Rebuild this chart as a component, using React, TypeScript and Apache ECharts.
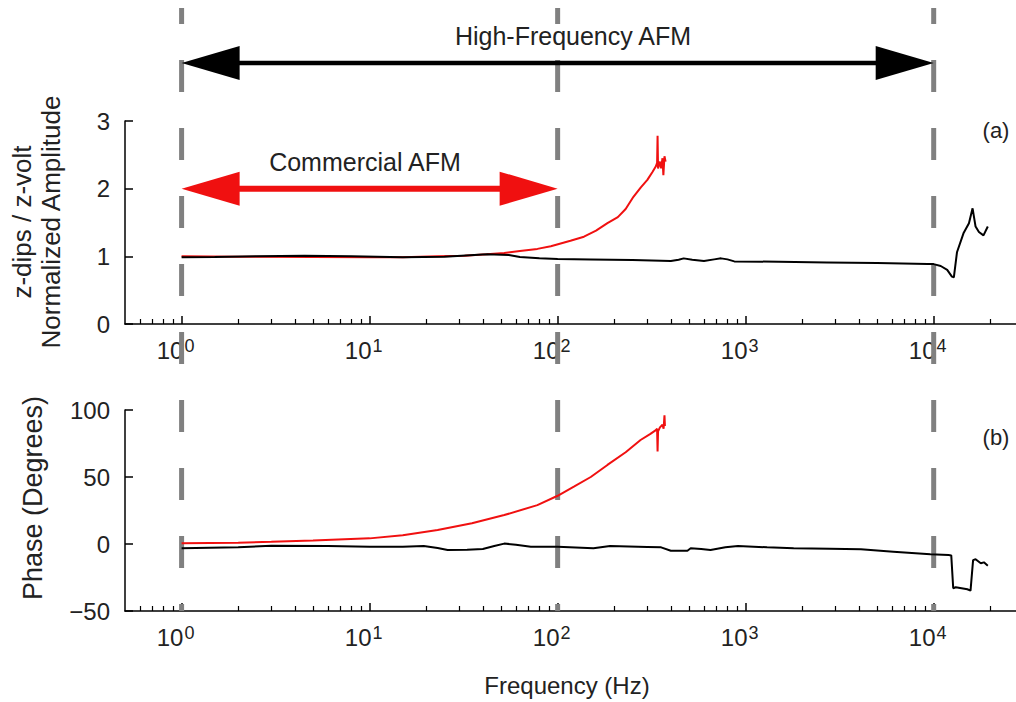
import React, { useEffect, useRef } from "react";
import * as echarts from "echarts";

// ---------- data ----------
const xMin = 0.5;
const xMax = 27400;
const majorTicks = [1, 10, 100, 1000, 10000];
const minorTicks = [
  0.6, 0.7, 0.8, 0.9,
  2, 3, 4, 5, 6, 7, 8, 9,
  20, 30, 40, 50, 60, 70, 80, 90,
  200, 300, 400, 500, 600, 700, 800, 900,
  2000, 3000, 4000, 5000, 6000, 7000, 8000, 9000,
  20000,
];
const dashedAt = [1, 100, 10000];
const commercialRange = [1, 100];
const highFreqRange = [1, 10000];
const commercialArrowY = 2;

// (a) normalized amplitude
const ampHighFreq: [number, number][] = [
  [1, 0.985], [1.5, 0.99], [2.5, 1.0], [4.5, 1.01], [8, 1.0], [15, 0.985],
  [25, 0.995], [42, 1.03], [55, 1.02], [63, 0.99], [80, 0.97], [100, 0.96],
  [150, 0.955], [250, 0.945], [400, 0.93], [440, 0.95], [468, 0.97], [520, 0.95],
  [600, 0.93], [680, 0.955], [740, 0.97], [800, 0.955], [870, 0.925], [1500, 0.92],
  [2700, 0.91], [5000, 0.9], [9300, 0.885], [10000, 0.885], [10900, 0.857],
  [11800, 0.8], [12500, 0.7], [12800, 0.69], [13300, 1.06], [14400, 1.34],
  [15400, 1.49], [16100, 1.71], [16700, 1.44], [17400, 1.36], [18400, 1.31],
  [19400, 1.44],
];
const ampCommercial: [number, number][] = [
  [1, 1.0], [2, 0.995], [5, 0.99], [10, 0.985], [15, 0.985], [23, 1.0],
  [32, 1.01], [42, 1.03], [52, 1.05], [63, 1.08], [78, 1.11], [92, 1.15],
  [117, 1.23], [138, 1.29], [160, 1.38], [184, 1.49], [209, 1.58], [230, 1.7],
  [253, 1.88], [277, 2.02], [300, 2.13], [320, 2.25], [333, 2.33], [338, 2.38],
  [340, 2.78], [342, 2.3], [350, 2.4], [355, 2.3], [361, 2.45], [365, 2.2],
  [370, 2.48], [375, 2.4],
];

// (b) phase
const phaseHighFreq: [number, number][] = [
  [1, -3.2], [2, -2.5], [3, -1.3], [6, -1.5], [10, -2], [15, -2], [19.4, -1.5],
  [23, -3], [26, -4.5], [33, -4.2], [40, -3.7], [46, -1.5], [52, 0.3], [60, -0.5],
  [72, -2], [100, -2], [155, -3.2], [190, -1.5], [300, -2.2], [355, -2.5],
  [400, -5], [490, -5], [510, -3.2], [580, -3.8], [650, -4.5], [780, -2.5],
  [910, -1.5], [1300, -2.5], [1800, -3.2], [2800, -3.5], [4100, -4], [6100, -5.7],
  [9600, -7.7], [12000, -8.2], [12400, -8.5], [12700, -33], [13100, -32.3],
  [15100, -33.8], [15700, -34.8], [16200, -12], [16700, -11.4], [17800, -14.4],
  [18500, -13.7], [19400, -16.2],
];
const phaseCommercial: [number, number][] = [
  [1, 0.5], [2, 1.0], [3, 1.7], [5, 2.7], [10, 4.2], [15, 6.5], [23, 10.4],
  [35, 15.5], [52, 21.6], [78, 29], [100, 36], [122, 42.8], [150, 50], [184, 59],
  [230, 68.5], [276, 77.6], [310, 82], [333, 85], [338, 86], [340, 69], [342, 84],
  [350, 87], [361, 89], [366, 86], [370, 96], [372, 88],
];

const FONT = "Liberation Sans, Arial, sans-serif";
const TXT = "#222";
const RED = "#f01010";

function xAxes(gridIndex: number) {
  return [
    {
      type: "log",
      gridIndex,
      position: "bottom",
      min: xMin,
      max: xMax,
      logBase: 10,
      axisLine: { show: true, onZero: false, lineStyle: { color: "#000", width: 1.5 } },
      axisTick: {
        show: true,
        inside: true,
        length: 8,
        customValues: majorTicks,
        lineStyle: { color: "#000", width: 1.5 },
      },
      axisLabel: {
        show: true,
        customValues: majorTicks,
        margin: 13,
        formatter: (v: number) => `{b|10}{s|${Math.round(Math.log10(v))}}`,
        rich: {
          b: { fontSize: 24, fontFamily: FONT, color: TXT, lineHeight: 26, verticalAlign: "middle" },
          s: { fontSize: 18, fontFamily: FONT, color: TXT, lineHeight: 16, verticalAlign: "top", padding: [0, 12, 0, 1] },
        },
      },
      splitLine: { show: false },
    },
    {
      type: "log",
      gridIndex,
      position: "bottom",
      min: xMin,
      max: xMax,
      logBase: 10,
      axisLine: { show: false, onZero: false },
      axisTick: {
        show: true,
        inside: true,
        length: 5,
        customValues: minorTicks,
        lineStyle: { color: "#000", width: 1.2 },
      },
      axisLabel: { show: false },
      splitLine: { show: false },
    },
  ];
}

function yAxis(gridIndex: number, min: number, max: number, interval: number) {
  return {
    type: "value",
    gridIndex,
    min,
    max,
    interval,
    axisLine: { show: true, lineStyle: { color: "#000", width: 1.5 } },
    axisTick: { show: true, inside: true, length: 8, lineStyle: { color: "#000", width: 1.5 } },
    axisLabel: {
      fontSize: 24,
      fontFamily: FONT,
      color: TXT,
      margin: 15,
      formatter: (v: number) => String(v).replace("-", "\u2212"),
    },
    splitLine: { show: false },
  };
}

export default function App() {
  const ref = useRef<HTMLDivElement>(null);
  useEffect(() => {
    if (!ref.current) return;
    const chart = echarts.init(ref.current, undefined, { renderer: "svg" });
    chart.setOption({
      animation: false,
      backgroundColor: "#fff",
      grid: [
        { left: 125, top: 121, width: 891, height: 203 },
        { left: 125, top: 410, width: 891, height: 201 },
      ],
      xAxis: [...xAxes(0), ...xAxes(1)],
      yAxis: [yAxis(0, 0, 3, 1), yAxis(1, -50, 100, 50)],
      series: [
        { type: "line", xAxisIndex: 0, yAxisIndex: 0, data: ampCommercial, symbol: "none", lineStyle: { color: RED, width: 2 }, z: 3 },
        { type: "line", xAxisIndex: 0, yAxisIndex: 0, data: ampHighFreq, symbol: "none", lineStyle: { color: "#000", width: 2 }, z: 4 },
        { type: "line", xAxisIndex: 2, yAxisIndex: 1, data: phaseCommercial, symbol: "none", lineStyle: { color: RED, width: 2 }, z: 3 },
        { type: "line", xAxisIndex: 2, yAxisIndex: 1, data: phaseHighFreq, symbol: "none", lineStyle: { color: "#000", width: 2 }, z: 4 },
      ],
    });

    const px = (v: number) => chart.convertToPixel({ xAxisIndex: 0 }, v) as number;
    const py = (yi: number, v: number) => chart.convertToPixel({ yAxisIndex: yi }, v) as number;
    const bottomY = py(1, -50);

    const graphics: any[] = [];
    dashedAt.forEach((f) => {
      const x = px(f);
      graphics.push({
        type: "line",
        z: 1,
        shape: { x1: x, y1: 8, x2: x, y2: bottomY },
        style: { stroke: "#808080", lineWidth: 5, lineDash: [32, 36], lineDashOffset: 16 },
      });
    });

    const arrow = (x1: number, x2: number, y: number, color: string, lw: number) => {
      const L = 58;
      const H = 17;
      graphics.push({
        type: "line",
        z: 50,
        shape: { x1: x1 + 40, y1: y, x2: x2 - 40, y2: y },
        style: { stroke: color, lineWidth: lw },
      });
      graphics.push({
        type: "polygon",
        z: 51,
        shape: { points: [[x1, y], [x1 + L, y - H], [x1 + L, y + H]] },
        style: { fill: color },
      });
      graphics.push({
        type: "polygon",
        z: 51,
        shape: { points: [[x2, y], [x2 - L, y - H], [x2 - L, y + H]] },
        style: { fill: color },
      });
    };
    arrow(px(highFreqRange[0]), px(highFreqRange[1]), 63, "#000", 4.5);
    arrow(px(commercialRange[0]), px(commercialRange[1]), py(0, commercialArrowY), RED, 6);

    const txt = (text: string, x: number, y: number, size: number, rotation = 0) => {
      graphics.push({
        type: "text",
        z: 60,
        x,
        y,
        rotation,
        style: {
          text,
          fontSize: size,
          fontFamily: FONT,
          fill: TXT,
          textAlign: "center",
          textVerticalAlign: "middle",
        },
      });
    };
    txt("High-Frequency AFM", 573, 36, 25);
    txt("Commercial AFM", 365, 162, 25);
    txt("(a)", 996, 130, 22);
    txt("(b)", 996, 437, 22);
    txt("z-dips / z-volt", 22, 222, 26, Math.PI / 2);
    txt("Normalized Amplitude", 51, 222, 26, Math.PI / 2);
    txt("Phase (Degrees)", 33, 498, 27, Math.PI / 2);
    txt("Frequency (Hz)", 567, 685, 24);

    chart.setOption({ graphic: graphics });

    return () => chart.dispose();
  }, []);
  return (
    <div
      ref={ref}
      style={{ position: "absolute", left: 0, top: 0, width: 1016, height: 702 }}
    />
  );
}
